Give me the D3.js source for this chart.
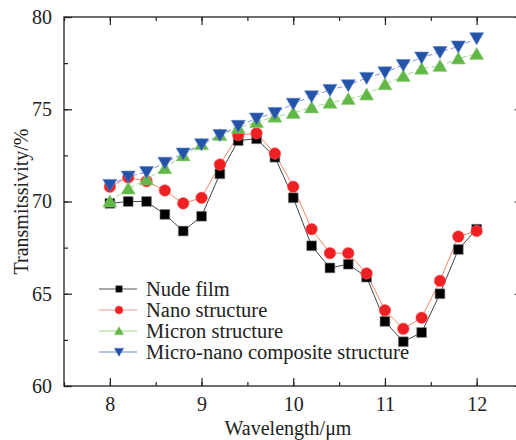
<!DOCTYPE html>
<html>
<head>
<meta charset="utf-8">
<script src="https://cdn.jsdelivr.net/npm/d3@7"></script>
<style>
  body { margin: 0; background: #fff; }
  svg { display: block; }
  text { font-family: "Liberation Serif", "DejaVu Serif", serif; fill: #222; }
</style>
</head>
<body>
<svg width="516" height="440"></svg>
<script>
// wavelength values (um)
const wavelength = [8, 8.2, 8.4, 8.6, 8.8, 9, 9.2, 9.4, 9.6, 9.8, 10, 10.2, 10.4, 10.6, 10.8, 11, 11.2, 11.4, 11.6, 11.8, 12];

const nudeFilm = [69.9, 70.0, 70.0, 69.3, 68.4, 69.2, 71.5, 73.3, 73.4, 72.4, 70.2, 67.6, 66.4, 66.6, 65.9, 63.5, 62.4, 62.9, 65.0, 67.4, 68.5];
const nanoStructure = [70.8, 71.3, 71.1, 70.6, 69.9, 70.2, 72.0, 73.6, 73.7, 72.6, 70.8, 68.5, 67.2, 67.2, 66.1, 64.1, 63.1, 63.7, 65.7, 68.1, 68.4];
const micronStructure = [70.0, 70.7, 71.2, 71.8, 72.5, 73.1, 73.6, 74.0, 74.3, 74.6, 74.8, 75.1, 75.35, 75.55, 75.8, 76.35, 76.8, 77.2, 77.35, 77.75, 78.0];
const compositeStructure = [70.9, 71.35, 71.6, 72.1, 72.6, 73.1, 73.6, 74.1, 74.5, 74.8, 75.3, 75.7, 76.05, 76.3, 76.7, 77.0, 77.4, 77.8, 78.1, 78.4, 78.85];

const seriesNames = ["Nude film", "Nano structure", "Micron structure", "Micro-nano composite structure"];

const xTicks = [8, 9, 10, 11, 12];
const yTicks = [60, 65, 70, 75, 80];

const svg = d3.select("svg"),
    width = +svg.attr("width"),
    height = +svg.attr("height");

const mLeft = 64, mRight = 522.5, mTop = 17, mBottom = 386;

const x = d3.scaleLinear().domain([7.5, 12.5]).range([mLeft, mRight]);
const y = d3.scaleLinear().domain([60, 80]).range([mBottom, mTop]);

const series = [
  {name: seriesNames[0], values: nudeFilm, line: "#444", legLine: "#555", dash: null, fill: "#000", stroke: "#777", shape: "square"},
  {name: seriesNames[1], values: nanoStructure, line: "#f4866a", legLine: "#f59a86", dash: null, fill: "#ee2024", stroke: "#f06060", shape: "circle"},
  {name: seriesNames[2], values: micronStructure, line: "#9fd68a", legLine: "#9fd68a", dash: "5,3", fill: "#62b847", stroke: "#8fce7a", shape: "up"},
  {name: seriesNames[3], values: compositeStructure, line: "#7f8fdc", legLine: "#6f88d4", dash: "5,3", fill: "#2354a8", stroke: "#5a80c8", shape: "down"}
];

function symbolPath(shape, k) {
  k = k || 1;
  if (shape === "square") return d3.symbol().type(d3.symbolSquare).size(95 * k * k)();
  if (shape === "circle") return d3.symbol().type(d3.symbolCircle).size(105 * k * k)();
  if (shape === "up") return `M0,${-6.5 * k}L${7 * k},${5.5 * k}L${-7 * k},${5.5 * k}Z`;
  return `M0,${6.5 * k}L${7 * k},${-5.5 * k}L${-7 * k},${-5.5 * k}Z`;
}

// axes frame (inward ticks on all four sides)
const axisG = svg.append("g");
const minorX = d3.range(7.5, 12.51, 0.5);
const minorY = d3.range(60, 80.1, 2.5);

axisG.append("g")
  .attr("transform", `translate(0,${mBottom})`)
  .call(d3.axisBottom(x).tickValues(minorX).tickSize(-4).tickFormat(""))
  .call(g => g.select(".domain").remove());
axisG.append("g")
  .attr("transform", `translate(0,${mBottom})`)
  .call(d3.axisBottom(x).tickValues(xTicks).tickSize(-8).tickFormat(d3.format("d")).tickPadding(11))
  .call(g => g.select(".domain").remove());
axisG.append("g")
  .attr("transform", `translate(0,${mTop})`)
  .call(d3.axisTop(x).tickValues(minorX).tickSize(-4).tickFormat(""))
  .call(g => g.select(".domain").remove());
axisG.append("g")
  .attr("transform", `translate(0,${mTop})`)
  .call(d3.axisTop(x).tickValues(xTicks).tickSize(-8).tickFormat(""))
  .call(g => g.select(".domain").remove());

axisG.append("g")
  .attr("transform", `translate(${mLeft},0)`)
  .call(d3.axisLeft(y).tickValues(minorY).tickSize(-4).tickFormat(""))
  .call(g => g.select(".domain").remove());
axisG.append("g")
  .attr("transform", `translate(${mLeft},0)`)
  .call(d3.axisLeft(y).tickValues(yTicks).tickSize(-8).tickFormat(d3.format("d")).tickPadding(12))
  .call(g => g.select(".domain").remove());
axisG.append("g")
  .attr("transform", `translate(${mRight},0)`)
  .call(d3.axisRight(y).tickValues(minorY).tickSize(-4).tickFormat(""))
  .call(g => g.select(".domain").remove());
axisG.append("g")
  .attr("transform", `translate(${mRight},0)`)
  .call(d3.axisRight(y).tickValues(yTicks).tickSize(-8).tickFormat(""))
  .call(g => g.select(".domain").remove());

axisG.selectAll(".tick line").attr("stroke", "#222").attr("stroke-width", 1.2);
axisG.selectAll(".tick text")
  .attr("font-family", "Liberation Serif, serif")
  .attr("font-size", 20)
  .attr("fill", "#222");

axisG.append("rect")
  .attr("x", mLeft).attr("y", mTop)
  .attr("width", mRight - mLeft).attr("height", mBottom - mTop)
  .attr("fill", "none").attr("stroke", "#222").attr("stroke-width", 1.3);

// axis titles
svg.append("text")
  .attr("x", (mLeft + 516) / 2 - 2).attr("y", 435)
  .attr("text-anchor", "middle").attr("font-size", 20)
  .text("Wavelength/μm");

svg.append("text")
  .attr("transform", `translate(28,${(mTop + mBottom) / 2}) rotate(-90)`)
  .attr("text-anchor", "middle").attr("font-size", 20)
  .text("Transmitssivity/%");

// lines and markers
const line = d3.line().x((d, i) => x(wavelength[i])).y(d => y(d));
const plot = svg.append("g");

series.forEach(s => {
  plot.append("path")
    .datum(s.values)
    .attr("fill", "none")
    .attr("stroke", s.line)
    .attr("stroke-width", 1)
    .attr("stroke-dasharray", s.dash)
    .attr("d", line);
});

series.forEach(s => {
  plot.selectAll(null)
    .data(s.values)
    .enter()
    .append("path")
    .attr("transform", (d, i) => `translate(${x(wavelength[i])},${y(d)})`)
    .attr("d", symbolPath(s.shape))
    .attr("fill", s.fill)
    .attr("stroke", s.stroke)
    .attr("stroke-width", 0.6);
});

// legend
const legend = svg.append("g").attr("transform", "translate(99,289)");
series.forEach((s, i) => {
  const g = legend.append("g").attr("transform", `translate(0,${i * 21})`);
  g.append("line")
    .attr("x1", 0).attr("x2", 38)
    .attr("stroke", s.legLine).attr("stroke-width", 1);
  g.append("path")
    .attr("transform", "translate(20,0)")
    .attr("d", symbolPath(s.shape, 0.68))
    .attr("fill", s.fill).attr("stroke", s.stroke).attr("stroke-width", 0.4);
  g.append("text")
    .attr("x", 47).attr("y", 0).attr("dy", "0.33em")
    .attr("font-size", 20.5)
    .attr("fill", "#333")
    .text(s.name);
});
</script>
</body>
</html>
